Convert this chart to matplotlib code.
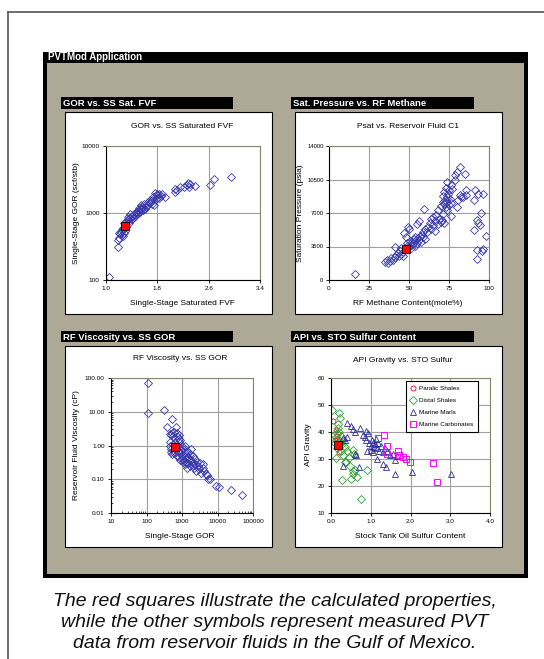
import matplotlib
matplotlib.use("Agg")
import matplotlib.pyplot as plt
from matplotlib.patches import Rectangle
from matplotlib.lines import Line2D
from matplotlib.ticker import FixedLocator, NullLocator, LogLocator

plt.rcParams['font.family'] = ['Liberation Sans', 'DejaVu Sans']

W, H = 544, 659

# --- GOR vs. SS Saturated FVF ---
fvf = [1.05, 1.18, 1.18, 1.20, 1.21, 1.22, 1.24, 1.25, 1.25, 1.26,
       1.27, 1.28, 1.28, 1.30, 1.31, 1.32, 1.33, 1.34, 1.35, 1.36,
       1.37, 1.38, 1.40, 1.41, 1.42, 1.43, 1.44, 1.45, 1.46, 1.47,
       1.48, 1.49, 1.50, 1.51, 1.52, 1.53, 1.54, 1.55, 1.55, 1.56,
       1.57, 1.58, 1.59, 1.60, 1.62, 1.64, 1.66, 1.68, 1.69, 1.70,
       1.72, 1.72, 1.74, 1.75, 1.77, 1.78, 1.79, 1.80, 1.80, 1.82,
       1.82, 1.85, 1.88, 1.92, 2.08, 2.08, 2.10, 2.16, 2.21, 2.27,
       2.28, 2.30, 2.31, 2.39, 2.62, 2.68, 2.95]
gor = [110, 310, 395, 420, 500, 480, 520, 470, 560, 600,
       460, 500, 700, 540, 620, 760, 700, 880, 800, 720,
       950, 850, 900, 800, 830, 980, 870, 900, 1000, 1050,
       950, 1020, 1000, 1200, 1100, 1050, 1150, 1300, 1180, 1250,
       1100, 1200, 1350, 1150, 1250, 1300, 1470, 1400, 1550, 1500,
       1550, 1350, 1740, 1300, 2000, 1600, 1950, 1700, 1850, 1950,
       1650, 1800, 1900, 1740, 2070, 2320, 2180, 2450, 2450, 2650,
       2810, 2450, 2690, 2530, 2600, 3260, 3450]
calc_fvf, calc_gor = 1.30, 645

# --- Psat vs. Reservoir Fluid C1 ---
c1 = [16.5, 35, 36, 37, 38, 39, 40, 41, 41.5, 42,
      43, 44, 44.5, 45, 45, 46, 46.5, 47, 48, 48.5,
      49, 49, 49.6, 50, 50, 50.5, 51, 51.5, 52, 52.5,
      53, 53.5, 54, 54, 55, 55, 55.5, 56, 56, 57,
      57.5, 58, 58.5, 59, 59.5, 60, 60, 61, 62, 63,
      64, 64, 65, 65, 66, 66.5, 67, 68, 68, 69,
      70, 70, 70.5, 71, 71, 71.5, 72, 72, 72, 72.5,
      73, 73, 73.5, 74, 74, 74, 74.5, 75, 75, 75.5,
      76, 76, 76.5, 77, 78.5, 78.9, 80, 80.2, 80.6, 81.6,
      82, 82.7, 83.8, 84.8, 85.4, 85.9, 90.5, 90.7, 91.1, 92.2,
      92.6, 92.8, 93.2, 93.2, 94.3, 94.7, 95.4, 96, 96, 98]
psat = [620, 1900, 2100, 1800, 2000, 2250, 2050, 2400, 3450, 2600,
        2800, 2500, 3000, 2700, 3300, 2900, 2500, 4900, 4500, 3600,
        3300, 3900, 5500, 3500, 5300, 4100, 3700, 3300, 4000, 3800,
        4300, 3600, 4100, 4500, 3900, 5800, 4400, 4200, 6200, 4600,
        4000, 4700, 5000, 4500, 7400, 4300, 5300, 5000, 5500, 6000,
        5300, 6400, 5700, 6600, 5100, 6200, 6800, 5900, 7300, 6400,
        7700, 6100, 6300, 8100, 6900, 8800, 9200, 7900, 6000, 8400,
        9600, 7600, 8700, 8200, 10200, 7300, 9000, 7800, 9400, 8500,
        8000, 9900, 6700, 9550, 10420, 10940, 7640, 11290, 8400, 8860,
        11800, 8680, 8680, 11120, 8860, 9450, 5210, 8340, 9380, 3130,
        6320, 2150, 5970, 8960, 5730, 7050, 3055, 3200, 8960, 4620]
calc_c1, calc_psat = 47.9, 3200

# --- RF Viscosity vs. SS GOR ---
ss_gor = [107, 107, 315, 507, 366, 671, 450, 480, 520, 560,
          600, 700, 750, 800, 850, 900, 450, 470, 490, 500,
          520, 550, 580, 600, 650, 680, 700, 720, 760, 800,
          820, 850, 900, 950, 1000, 1000, 1050, 1100, 1150, 1200,
          1250, 1300, 1350, 1400, 1450, 1500, 1600, 1650, 1700, 1800,
          1900, 2000, 2100, 2200, 2300, 2400, 2500, 2600, 2800, 3000,
          3200, 3500, 3800, 4000, 4300, 4700, 5000, 5500, 6000, 1340,
          9300, 10800, 23600, 49500, 1100, 1300, 900, 1200, 1500, 2000]
visc = [71, 8.9, 11.4, 6.0, 3.6, 3.6, 2.2, 2.0, 2.3, 1.9,
        2.5, 2.4, 1.8, 2.0, 1.6, 1.5, 1.3, 1.0, 0.8, 0.65,
        0.55, 1.1, 0.7, 0.6, 1.2, 0.8, 0.5, 1.0, 0.7, 1.3,
        0.45, 0.9, 0.6, 0.75, 1.0, 0.5, 0.4, 0.8, 0.35, 0.6,
        0.95, 0.5, 0.7, 0.3, 0.45, 0.65, 0.4, 0.25, 0.55, 0.8,
        0.35, 0.5, 0.3, 0.22, 0.4, 0.28, 0.18, 0.33, 0.25, 0.2,
        0.3, 0.15, 0.22, 0.28, 0.17, 0.14, 0.13, 0.1, 0.1, 0.21,
        0.064, 0.057, 0.049, 0.034, 0.33, 0.4, 0.38, 0.28, 0.3, 0.26]
calc_ssgor, calc_visc = 630, 0.9

# --- API Gravity vs. STO Sulfur ---
paralic_s = [0.04, 0.12, 0.10, 0.15, 0.20]
paralic_api = [43.9, 40.8, 37.0, 38.5, 32.5]
distal_s = [0.03, 0.21, 0.23, 0.18, 0.15, 0.20, 0.12, 0.25, 0.10, 0.22,
            0.30, 0.28, 0.15, 0.35, 0.25, 0.40, 0.30, 0.12, 0.45, 0.55,
            0.58, 0.38, 0.48, 0.55, 0.60, 0.27, 0.50, 0.65, 0.56, 0.90,
            0.75, 0.35, 0.20, 0.08, 0.18]
distal_api = [48.0, 47.2, 45.1, 41.5, 39.5, 40.0, 38.0, 38.5, 36.0, 36.5,
              37.0, 35.5, 34.0, 34.5, 33.0, 33.0, 31.5, 30.5, 30.5, 33.5,
              32.0, 29.0, 27.5, 25.5, 26.0, 22.2, 22.5, 23.2, 24.6, 26.1,
              15.3, 28.8, 36.0, 39.0, 43.0]
marl_s = [0.39, 0.50, 0.55, 0.60, 0.73, 0.88, 0.80, 0.92, 0.85, 0.31,
          0.40, 0.36, 0.63, 0.60, 0.31, 0.71, 0.91, 1.00, 1.02, 1.05,
          1.08, 1.10, 1.12, 1.15, 1.18, 1.00, 1.05, 1.20, 1.25, 1.30,
          1.15, 1.32, 1.38, 1.48, 1.40, 1.55, 1.61, 1.61, 1.65, 2.03,
          3.01, 1.35, 0.95, 0.88]
marl_api = [43.5, 42.3, 41.0, 40.0, 41.4, 40.5, 39.0, 39.5, 38.0, 37.7,
            38.0, 37.0, 31.5, 32.0, 27.5, 27.1, 33.0, 35.0, 37.0, 36.0,
            34.5, 35.5, 37.5, 34.0, 36.0, 33.5, 32.5, 33.0, 35.0, 32.5,
            29.9, 28.1, 27.1, 31.5, 33.0, 32.0, 29.6, 24.6, 31.0, 25.3,
            24.6, 34.0, 36.0, 37.0]
carb_s = [1.19, 1.34, 1.40, 1.40, 1.38, 1.68, 1.80, 1.89, 1.99, 2.57, 2.66, 1.70]
carb_api = [37.7, 38.9, 34.8, 31.7, 32.5, 33.1, 30.8, 29.9, 29.0, 28.7, 21.5, 31.5]
calc_s, calc_api = 0.18, 35.2

caption = ["The red squares illustrate the calculated properties,",
           "while the other symbols represent measured PVT",
           "data from reservoir fluids in the Gulf of Mexico."]

BLUE = '#3838aa'
PANEL = '#ada996'


def fbox(x0, y0, x1, y1):
    return [x0 / W, 1 - y1 / H, (x1 - x0) / W, (y1 - y0) / H]


def rect(fig, x0, y0, x1, y1, **kw):
    l, b, w, h = fbox(x0, y0, x1, y1)
    fig.add_artist(Rectangle((l, b), w, h, transform=fig.transFigure, zorder=-5, **kw))


def ftext(fig, x, y, s, **kw):
    fig.text(x / W, 1 - y / H, s, **kw)


def chart_frame(fig, bar, box, heading):
    rect(fig, *bar, facecolor='black', edgecolor='none')
    ftext(fig, bar[0] + 2, (bar[1] + bar[3]) / 2 + 0.5, heading, color='white',
          fontsize=6.8, fontweight='bold', va='center', ha='left')
    rect(fig, *box, facecolor='white', edgecolor='black', linewidth=0.8)


def style_axes(ax):
    ax.set_facecolor('white')
    for side in ['left', 'bottom']:
        ax.spines[side].set_color('black')
        ax.spines[side].set_linewidth(0.8)
    for side in ['top', 'right']:
        ax.spines[side].set_color('#85856a')
        ax.spines[side].set_linewidth(0.8)
    ax.grid(True, which='major', color='#a0a0a0', linewidth=0.8)
    ax.set_axisbelow(True)
    ax.tick_params(which='major', labelsize=4.6, length=2, width=0.6, pad=2.5)


fig = plt.figure(figsize=(W / 100, H / 100), dpi=100)
fig.patch.set_facecolor('white')

# outer page frame
fig.add_artist(Line2D([8 / W, 8 / W], [0, 1 - 12 / H], transform=fig.transFigure,
                      color='#555555', linewidth=1.2, zorder=-6))
fig.add_artist(Line2D([8 / W, 1], [1 - 12 / H, 1 - 12 / H], transform=fig.transFigure,
                      color='#555555', linewidth=1.2, zorder=-6))

# application panel
rect(fig, 43, 52, 528, 578, facecolor='black', edgecolor='none')
rect(fig, 47, 63, 524, 574, facecolor=PANEL, edgecolor='none')
ftext(fig, 48, 57.5, "PVTMod Application", color='white', fontsize=7,
      fontweight='bold', va='center', ha='left')

# ---------- chart 1 ----------
chart_frame(fig, (61, 97, 233, 109), (65, 112, 272, 314), "GOR vs. SS Sat. FVF")
ax1 = fig.add_axes(fbox(106, 146, 260, 280))
style_axes(ax1)
ax1.plot(fvf, gor, linestyle='none', marker='D', ms=3.8, mfc='none', mec=BLUE, mew=0.6)
ax1.plot([calc_fvf], [calc_gor], linestyle='none', marker='s', ms=6, mfc='#ff0000',
         mec='black', mew=0.6, zorder=5)
ax1.set_yscale('log')
ax1.set_xlim(1.0, 3.4)
ax1.set_ylim(100, 10000)
ax1.xaxis.set_major_locator(FixedLocator([1.0, 1.8, 2.6, 3.4]))
ax1.set_xticklabels(['1.0', '1.8', '2.6', '3.4'])
ax1.yaxis.set_major_locator(FixedLocator([100, 1000, 10000]))
ax1.set_yticklabels(['100', '1000', '10000'])
ax1.yaxis.set_minor_locator(NullLocator())
ftext(fig, 182, 127, "GOR vs. SS Saturated FVF", fontsize=6, ha='center', va='center')
ftext(fig, 182, 304, "Single-Stage Saturated FVF", fontsize=6, ha='center', va='center')
ftext(fig, 76, 213, "Single-Stage GOR (scf/stb)", fontsize=6, ha='center', va='center',
      rotation=90)

# ---------- chart 2 ----------
chart_frame(fig, (291, 97, 474, 109), (295, 112, 502, 314), "Sat. Pressure vs. RF Methane")
ax2 = fig.add_axes(fbox(329, 146, 489, 280))
style_axes(ax2)
ax2.plot(c1, psat, linestyle='none', marker='D', ms=3.8, mfc='none', mec=BLUE, mew=0.6)
ax2.plot([calc_c1], [calc_psat], linestyle='none', marker='s', ms=6, mfc='#ff0000',
         mec='black', mew=0.6, zorder=5)
ax2.set_xlim(0, 100)
ax2.set_ylim(0, 14000)
ax2.xaxis.set_major_locator(FixedLocator([0, 25, 50, 75, 100]))
ax2.yaxis.set_major_locator(FixedLocator([0, 3500, 7000, 10500, 14000]))
ax2.set_xticklabels(['0', '25', '50', '75', '100'])
ax2.set_yticklabels(['0', '3500', '7000', '10500', '14000'])
ax2.tick_params(axis='y', labelsize=4.2, pad=2)
ftext(fig, 408, 127, "Psat vs. Reservoir Fluid C1", fontsize=6, ha='center', va='center')
ftext(fig, 408, 304, "RF Methane Content(mole%)", fontsize=6, ha='center', va='center')
ftext(fig, 300, 213, "Saturation Pressure (psia)", fontsize=6, ha='center', va='center',
      rotation=90)

# ---------- chart 3 ----------
chart_frame(fig, (61, 331, 233, 342), (65, 346, 272, 547), "RF Viscosity vs. SS GOR")
ax3 = fig.add_axes(fbox(111, 378, 253, 513))
style_axes(ax3)
ax3.plot(ss_gor, visc, linestyle='none', marker='D', ms=3.8, mfc='none', mec=BLUE, mew=0.6)
ax3.plot([calc_ssgor], [calc_visc], linestyle='none', marker='s', ms=6, mfc='#ff0000',
         mec='black', mew=0.6, zorder=5)
ax3.set_xscale('log')
ax3.set_yscale('log')
ax3.set_xlim(10, 100000)
ax3.set_ylim(0.01, 100)
ax3.xaxis.set_major_locator(FixedLocator([10, 100, 1000, 10000, 100000]))
ax3.set_xticklabels(['10', '100', '1000', '10000', '100000'])
ax3.yaxis.set_major_locator(FixedLocator([0.01, 0.1, 1, 10, 100]))
ax3.set_yticklabels(['0.01', '0.10', '1.00', '10.00', '100.00'])
ax3.xaxis.set_minor_locator(LogLocator(base=10, subs=range(2, 10)))
ax3.yaxis.set_minor_locator(LogLocator(base=10, subs=range(2, 10)))
ax3.tick_params(which='minor', direction='in', length=1.5, width=0.5)
ax3.xaxis.set_minor_formatter(plt.NullFormatter())
ax3.yaxis.set_minor_formatter(plt.NullFormatter())
ftext(fig, 180, 359, "RF Viscosity vs. SS GOR", fontsize=6, ha='center', va='center')
ftext(fig, 180, 536, "Single-Stage GOR", fontsize=6, ha='center', va='center')
ftext(fig, 76, 445, "Reservoir Fluid Viscosity (cP)", fontsize=6, ha='center', va='center',
      rotation=90)

# ---------- chart 4 ----------
chart_frame(fig, (291, 331, 474, 342), (295, 346, 502, 547), "API vs. STO Sulfur Content")
ax4 = fig.add_axes(fbox(331, 378, 490, 513))
style_axes(ax4)
ax4.plot(paralic_s, paralic_api, linestyle='none', marker='o', ms=3.6, mfc='none',
         mec='#ff0000', mew=0.6, label='Paralic Shales')
ax4.plot(distal_s, distal_api, linestyle='none', marker='D', ms=3.6, mfc='none',
         mec='#33a033', mew=0.6, label='Distal Shales')
ax4.plot(marl_s, marl_api, linestyle='none', marker='^', ms=4.4, mfc='none',
         mec='#2e2e9e', mew=0.6, label='Marine Marls')
ax4.plot(carb_s, carb_api, linestyle='none', marker='s', ms=3.8, mfc='none',
         mec='#ff00ff', mew=0.7, label='Marine Carbonates')
ax4.plot([calc_s], [calc_api], linestyle='none', marker='s', ms=6, mfc='#ff0000',
         mec='black', mew=0.6, zorder=5)
ax4.set_xlim(0, 4.0)
ax4.set_ylim(10, 60)
ax4.xaxis.set_major_locator(FixedLocator([0, 1, 2, 3, 4]))
ax4.set_xticklabels(['0.0', '1.0', '2.0', '3.0', '4.0'])
ax4.yaxis.set_major_locator(FixedLocator([10, 20, 30, 40, 50, 60]))
ax4.set_yticklabels(['10', '20', '30', '40', '50', '60'])
handles, labels = ax4.get_legend_handles_labels()
leg = ax4.legend(handles, labels, loc='upper left', bbox_to_anchor=(406 / W, 1 - 381 / H),
                 bbox_transform=fig.transFigure, fontsize=4.6, frameon=True, fancybox=False,
                 edgecolor='black', framealpha=1, handlelength=0.8, handletextpad=0.5,
                 labelspacing=1.05, borderpad=0.7, borderaxespad=0)
leg.get_frame().set_linewidth(0.8)
ftext(fig, 403, 361, "API Gravity vs. STO Sulfur", fontsize=6, ha='center', va='center')
ftext(fig, 410, 536, "Stock Tank Oil Sulfur Content", fontsize=6, ha='center', va='center')
ftext(fig, 308, 445, "API Gravity", fontsize=6, ha='center', va='center', rotation=90)

# caption
for i, line in enumerate(caption):
    ftext(fig, 275, 602 + i * 20.7, line, fontsize=14, style='italic', ha='center',
          va='center', color='#111111')

fig.savefig('out.png', dpi=100)
